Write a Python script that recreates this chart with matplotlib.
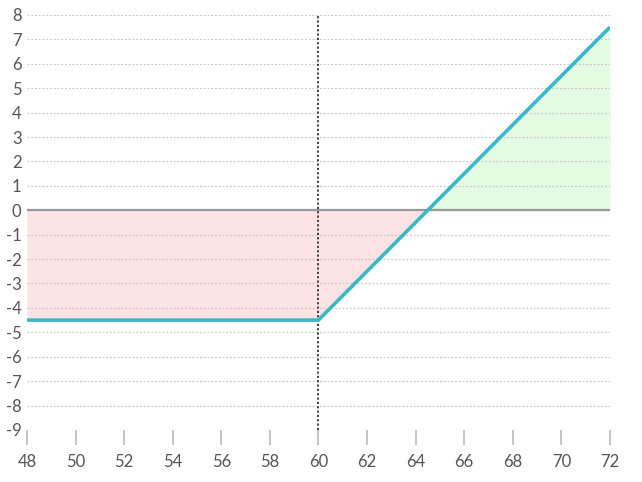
import numpy as np
import matplotlib.pyplot as plt

plt.rcParams['font.family'] = ['Lato', 'DejaVu Sans']

# long call: strike 60, premium 4.5
prices = [48, 60, 72]
profit = [-4.5, -4.5, 7.5]
breakeven = 64.5
strike = 60

xticks = list(range(48, 73, 2))
yticks = list(range(-9, 9))

fig = plt.figure(figsize=(6.42, 4.82), dpi=100)
ax = fig.add_axes([0.042, 0.108, 0.908, 0.861])

x = np.array(prices, dtype=float)
y = np.array(profit, dtype=float)

# shading: loss region pink, profit region green
xl = np.array([48, 60, breakeven])
yl = np.interp(xl, x, y)
ax.fill_between(xl, yl, 0, color='#fde3e3', lw=0)
xg = np.array([breakeven, 72])
yg = np.interp(xg, x, y)
ax.fill_between(xg, yg, 0, color='#e4fbe4', lw=0)

for t in yticks:
    if t != 0:
        ax.axhline(t, color='#c8c8c8', lw=0.9, ls=(0, (1.5, 1.5)), zorder=1)
ax.axhline(0, color='#999999', lw=1.6, zorder=2)
ax.axvline(strike, color='#333333', lw=1.3, ls=(0, (1.2, 1.2)), zorder=3)

ax.plot(x, y, color='#3ab8c8', lw=2.6, zorder=4, solid_capstyle='butt')

ax.set_xlim(48, 72)
ax.set_ylim(-9, 8)
ax.set_xticks(xticks)
ax.set_yticks(yticks)
ax.set_yticklabels([str(t) for t in yticks])
for s in ax.spines.values():
    s.set_visible(False)
ax.tick_params(axis='x', direction='out', length=11, width=1.2, color='#bbbbbb',
               labelsize=12, labelcolor='#555555', pad=6)
ax.tick_params(axis='y', length=0, labelsize=12, labelcolor='#555555', pad=4)

fig.savefig('out.png', dpi=100)
